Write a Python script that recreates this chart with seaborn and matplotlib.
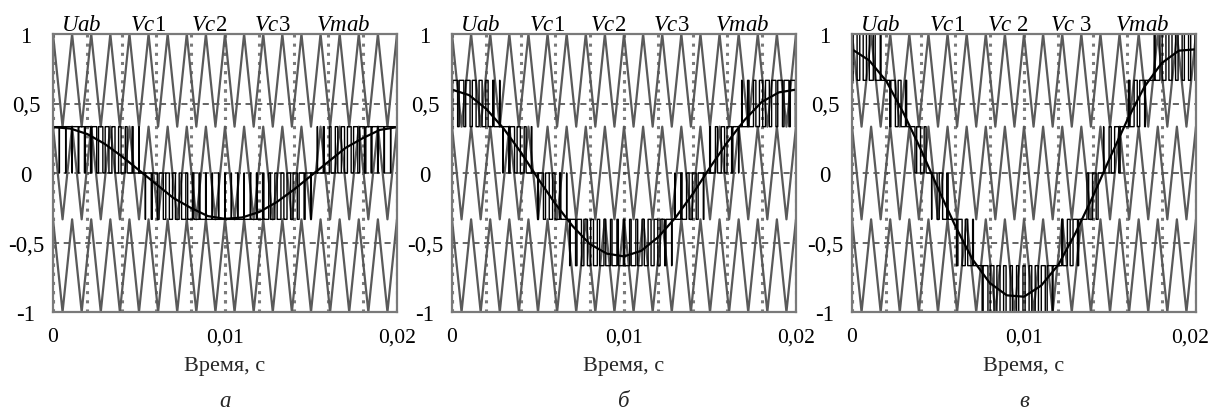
import numpy as np
import pandas as pd
import matplotlib
matplotlib.use("Agg")
import matplotlib.pyplot as plt
import matplotlib.transforms as mtransforms
from matplotlib.ticker import MultipleLocator
import seaborn as sns

# ---------------- data ----------------
t_ref = [0.000, 0.001, 0.002, 0.003, 0.004, 0.005, 0.006, 0.007, 0.008, 0.009, 0.010,
         0.011, 0.012, 0.013, 0.014, 0.015, 0.016, 0.017, 0.018, 0.019, 0.020]
uab_a = [0.33, 0.32, 0.28, 0.21, 0.12, 0.02, -0.08, -0.18, -0.25, -0.31, -0.33,
         -0.32, -0.28, -0.21, -0.12, -0.02, 0.08, 0.18, 0.25, 0.31, 0.33]
uab_b = [0.60, 0.56, 0.46, 0.32, 0.15, -0.04, -0.22, -0.38, -0.51, -0.58, -0.60,
         -0.56, -0.46, -0.32, -0.15, 0.04, 0.22, 0.38, 0.51, 0.58, 0.60]
uab_c = [0.89, 0.81, 0.66, 0.43, 0.17, -0.11, -0.38, -0.62, -0.79, -0.88, -0.89,
         -0.81, -0.66, -0.43, -0.17, 0.11, 0.38, 0.62, 0.79, 0.88, 0.89]
carrier_freq = 900.0                       # Hz, carriers Vc1..Vc3
carrier_bands = [(1/3, 1.0), (-1/3, 1/3), (-1.0, -1/3)]   # Vc1, Vc2, Vc3
level_step = 1/3                            # output voltage level step
switch_freq = 2700.0                        # effective output switching freq
t_end = 0.02

y_ticks = [-1, -0.5, 0, 0.5, 1]
y_ticklabels = ["-1", "-0,5", "0", "0,5", "1"]
x_ticks = [0, 0.01, 0.02]
x_ticklabels = ["0", "0,01", "0,02"]
xlabel = "Время, с"
panel_letters = ["а", "б", "в"]
legend_sets = [
    [r"$\mathit{Uab}$", r"$\mathit{Vc}\mathrm{1}$", r"$\mathit{Vc}\mathrm{2}$",
     r"$\mathit{Vc}\mathrm{3}$", r"$\mathit{Vmab}$"],
    [r"$\mathit{Uab}$", r"$\mathit{Vc}\mathrm{1}$", r"$\mathit{Vc}\mathrm{2}$",
     r"$\mathit{Vc}\mathrm{3}$", r"$\mathit{Vmab}$"],
    [r"$\mathit{Uab}$", r"$\mathit{Vc}\mathrm{1}$", r"$\mathit{Vc}\ \mathrm{2}$",
     r"$\mathit{Vc}\ \mathrm{3}$", r"$\mathit{Vmab}$"],
]
refs = [uab_a, uab_b, uab_c]

# ---------------- style ----------------
sns.set_theme(style="white")
plt.rcParams["font.family"] = ["Liberation Serif", "DejaVu Serif"]
plt.rcParams["mathtext.fontset"] = "custom"
plt.rcParams["mathtext.rm"] = "Liberation Serif"
plt.rcParams["mathtext.it"] = "Liberation Serif:italic"

FS = 16.5
FS_X = 15.5
W, H = 1213, 414
fig = plt.figure(figsize=(W / 100, H / 100), dpi=100)
lefts_px = [53, 452, 852]
ax_w, ax_top, ax_bot = 344, 35, 313

# carrier vertices (peaks at k/f, valleys half way)
n_per = int(round(carrier_freq * t_end))
rows = []
for bi, (lo, hi) in enumerate(carrier_bands):
    for k in range(2 * n_per + 1):
        rows.append({"t": k / (2 * carrier_freq), "v": hi if k % 2 == 0 else lo,
                     "band": bi})
carrier_df = pd.DataFrame(rows)

t_fine = np.linspace(0, t_end, 40001)
tri = 2 * np.abs(((t_fine * switch_freq) % 1.0) - 0.5)   # 0..1 triangle

legend_x = [0.081, 0.276, 0.453, 0.637, 0.843]

for i, lp in enumerate(lefts_px):
    ax = fig.add_axes([lp / W, (H - ax_bot) / H, ax_w / W, (ax_bot - ax_top) / H])
    ax.set_xlim(0, t_end)
    ax.set_ylim(-1, 1)

    # grid
    ax.set_axisbelow(True)
    ax.xaxis.set_minor_locator(MultipleLocator(0.002))
    ax.xaxis.remove_overlapping_locs = False
    ax.grid(True, which="both", axis="x", color="#7a7a7a",
            linestyle=(0, (1, 2.0)), linewidth=2.2)
    ax.grid(True, which="major", axis="y", color="#3a3a3a",
            linestyle=(0, (4, 3)), linewidth=1.1)

    # carriers
    sns.lineplot(data=carrier_df, x="t", y="v", units="band", estimator=None,
                 color="#5a5a5a", linewidth=1.6, ax=ax, legend=False)

    # reference and output
    ref = np.interp(t_fine, t_ref, refs[i])
    mag = np.abs(ref) / level_step
    n = np.floor(mag)
    frac = mag - n
    out = np.sign(ref) * level_step * (n + (frac > tri))
    sns.lineplot(x=t_fine, y=out, estimator=None, sort=False, color="black",
                 linewidth=1.0, drawstyle="steps-post", ax=ax, legend=False)
    sns.lineplot(x=t_ref, y=refs[i], estimator=None, sort=False, color="black",
                 linewidth=1.6, ax=ax, legend=False)

    # ticks
    ax.set_xticks(x_ticks)
    ax.set_xticklabels(x_ticklabels)
    ax.set_yticks(y_ticks)
    ax.set_yticklabels(y_ticklabels)
    ax.tick_params(axis="both", which="both", length=0, colors="black")
    ax.tick_params(axis="y", pad=19.4, labelsize=FS)
    ax.tick_params(axis="x", pad=11, labelsize=FS_X)
    for lab in ax.get_yticklabels():
        lab.set_horizontalalignment("center")
    if i == 2:
        last = ax.get_xticklabels()[-1]
        last.set_transform(last.get_transform() +
                           mtransforms.ScaledTranslation(-6 / 100, 0,
                                                         fig.dpi_scale_trans))
    ax.set_xlabel("")
    ax.set_ylabel("")
    for sp in ax.spines.values():
        sp.set_color("#7a7a7a")
        sp.set_linewidth(1.6)
        sp.set_visible(True)

    # legend-like labels above the plot
    for lx, txt in zip(legend_x, legend_sets[i]):
        ax.text(lx, 1 + 4.5 / (ax_bot - ax_top), txt, transform=ax.transAxes,
                ha="center", va="baseline", fontsize=FS, color="black")

    cx = (lp + ax_w / 2) / W
    fig.text(cx, 1 - 371 / H, xlabel, ha="center", va="baseline", fontsize=16)
    fig.text(cx, 1 - 407 / H, panel_letters[i], ha="center", va="baseline",
             fontsize=FS, fontstyle="italic")

fig.savefig("out.png", dpi=100, facecolor="white")
